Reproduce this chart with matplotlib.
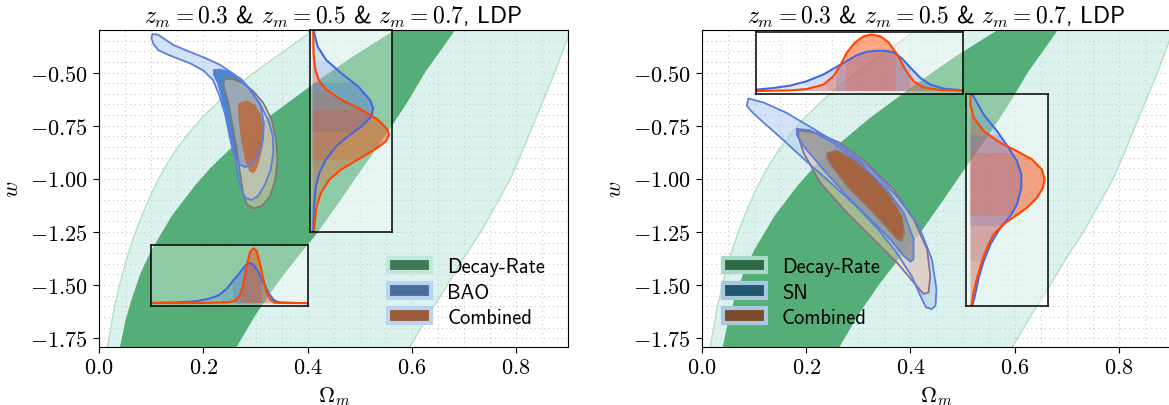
import numpy as np
import matplotlib
matplotlib.use('Agg')
import matplotlib.pyplot as plt
from matplotlib.patches import Polygon, Patch
from matplotlib.ticker import FormatStrFormatter, MultipleLocator

plt.rcParams['font.family'] = ['cmss10', 'DejaVu Sans']
plt.rcParams['mathtext.fontset'] = 'cm'
plt.rcParams['axes.unicode_minus'] = False

# ---- decay-rate band, (Omega_m, w) (same in both panels)
band2_left_om = [0.011, 0.016, 0.028, 0.040, 0.054, 0.069, 0.088, 0.110, 0.130, 0.149, 0.175,
                 0.200, 0.230, 0.263, 0.300, 0.340, 0.400, 0.430]
band2_left_w = [-1.85, -1.79, -1.62, -1.488, -1.365, -1.254, -1.135, -1.019, -0.93, -0.858, -0.775,
                -0.705, -0.635, -0.565, -0.495, -0.425, -0.32, -0.22]
band2_right_om = [0.581, 0.596, 0.632, 0.668, 0.700, 0.732, 0.762, 0.789, 0.812, 0.832, 0.854, 0.874, 0.900, 0.920]
band2_right_w = [-1.85, -1.79, -1.64, -1.50, -1.37, -1.25, -1.12, -1.00, -0.87, -0.75, -0.62, -0.50, -0.33, -0.25]
band1_left_om = [0.034, 0.040, 0.050, 0.062, 0.080, 0.101, 0.139, 0.184, 0.215, 0.250, 0.320,
                 0.404, 0.480, 0.562, 0.600]
band1_left_w = [-1.85, -1.79, -1.67, -1.567, -1.44, -1.332, -1.175, -1.03, -0.945, -0.862, -0.718,
                -0.566, -0.435, -0.308, -0.24]
band1_right_om = [0.249, 0.264, 0.300, 0.339, 0.380, 0.420, 0.456, 0.491, 0.527, 0.562, 0.595, 0.625, 0.683, 0.700]
band1_right_w = [-1.85, -1.79, -1.64, -1.50, -1.37, -1.25, -1.125, -1.00, -0.875, -0.75, -0.625, -0.50, -0.30, -0.24]

# ---- left panel contours (BAO / combined)
bao_2s = [(0.102, -0.319), (0.113, -0.322), (0.126, -0.344), (0.142, -0.370), (0.168, -0.397),
          (0.200, -0.428), (0.232, -0.464), (0.260, -0.511), (0.286, -0.573), (0.308, -0.644),
          (0.324, -0.722), (0.333, -0.800), (0.334, -0.878), (0.329, -0.956), (0.318, -1.027),
          (0.305, -1.081), (0.292, -1.100), (0.280, -1.089), (0.271, -1.042), (0.265, -0.964),
          (0.259, -0.878), (0.251, -0.784), (0.241, -0.691), (0.230, -0.605), (0.218, -0.534),
          (0.200, -0.491), (0.174, -0.456), (0.149, -0.433), (0.129, -0.413), (0.113, -0.394),
          (0.104, -0.366), (0.100, -0.339)]
bao_1s = [(0.220, -0.488), (0.232, -0.486), (0.250, -0.497), (0.272, -0.530), (0.294, -0.590),
          (0.310, -0.660), (0.316, -0.740), (0.314, -0.820), (0.305, -0.890), (0.292, -0.935),
          (0.280, -0.945), (0.268, -0.930), (0.258, -0.880), (0.250, -0.800), (0.243, -0.710),
          (0.236, -0.620), (0.228, -0.550), (0.220, -0.510)]
comb_2s_l = [(0.241, -0.531), (0.257, -0.531), (0.276, -0.550), (0.296, -0.589), (0.315, -0.644),
             (0.331, -0.722), (0.339, -0.816), (0.342, -0.909), (0.338, -1.003), (0.328, -1.081),
             (0.312, -1.128), (0.296, -1.139), (0.283, -1.120), (0.276, -1.066), (0.270, -0.972),
             (0.264, -0.863), (0.256, -0.753), (0.248, -0.644), (0.241, -0.581), (0.238, -0.550)]
comb_1s_l = [(0.267, -0.644), (0.283, -0.631), (0.299, -0.652), (0.310, -0.698), (0.315, -0.769),
             (0.314, -0.847), (0.308, -0.909), (0.302, -0.956), (0.296, -0.975), (0.288, -0.964),
             (0.280, -0.909), (0.273, -0.831), (0.268, -0.738), (0.266, -0.675)]

# ---- right panel contours (SN / combined)
sn_2s = [(0.089, -0.622), (0.118, -0.641), (0.161, -0.688), (0.210, -0.759), (0.267, -0.845),
         (0.324, -0.955), (0.373, -1.080), (0.416, -1.221), (0.441, -1.378), (0.450, -1.519),
         (0.448, -1.597), (0.441, -1.613), (0.430, -1.605), (0.419, -1.550), (0.402, -1.456),
         (0.373, -1.346), (0.338, -1.237), (0.295, -1.127), (0.246, -1.017), (0.196, -0.908),
         (0.154, -0.813), (0.118, -0.735), (0.097, -0.688), (0.086, -0.657)]
sn_1s = [(0.182, -0.765), (0.208, -0.772), (0.252, -0.831), (0.304, -0.925), (0.355, -1.050),
         (0.387, -1.159), (0.406, -1.284), (0.406, -1.378), (0.400, -1.390), (0.387, -1.362),
         (0.361, -1.284), (0.323, -1.191), (0.278, -1.081), (0.233, -0.956), (0.195, -0.847),
         (0.182, -0.792)]
comb_2s_r = [(0.185, -0.772), (0.220, -0.784), (0.265, -0.831), (0.316, -0.925), (0.368, -1.050),
             (0.406, -1.190), (0.432, -1.331), (0.438, -1.456), (0.435, -1.534), (0.425, -1.542),
             (0.406, -1.487), (0.374, -1.394), (0.329, -1.284), (0.278, -1.159), (0.227, -1.019),
             (0.195, -0.878), (0.185, -0.800)]
comb_1s_r = [(0.240, -0.878), (0.259, -0.866), (0.291, -0.909), (0.329, -0.987), (0.361, -1.081),
             (0.384, -1.175), (0.388, -1.253), (0.384, -1.292), (0.374, -1.284), (0.352, -1.222),
             (0.316, -1.128), (0.278, -1.034), (0.249, -0.940), (0.240, -0.901)]

# ---- 1D marginals shown in the insets (position, relative density)
bao_w = [-0.30, -0.315, -0.378, -0.440, -0.503, -0.565, -0.628, -0.667, -0.706, -0.753, -0.800,
         -0.847, -0.909, -0.972, -1.034, -1.128, -1.237, -1.25]
bao_w_d = [0.018, 0.022, 0.066, 0.176, 0.374, 0.595, 0.749, 0.793, 0.771, 0.639, 0.463,
           0.308, 0.176, 0.088, 0.044, 0.018, 0.009, 0.008]
combl_w = [-0.30, -0.409, -0.487, -0.534, -0.581, -0.628, -0.675, -0.722, -0.769, -0.792, -0.823,
           -0.862, -0.909, -0.956, -1.003, -1.065, -1.128, -1.25]
combl_w_d = [0.008, 0.013, 0.036, 0.080, 0.176, 0.374, 0.639, 0.859, 0.982, 1.000, 0.961,
             0.815, 0.595, 0.374, 0.220, 0.110, 0.053, 0.015]
bao_om = [0.100, 0.152, 0.184, 0.209, 0.228, 0.244, 0.257, 0.270, 0.280, 0.287, 0.296, 0.305,
          0.315, 0.324, 0.334, 0.344, 0.376, 0.400]
bao_om_d = [0.006, 0.018, 0.036, 0.078, 0.139, 0.259, 0.410, 0.560, 0.680, 0.740, 0.700, 0.570,
            0.380, 0.199, 0.066, 0.018, 0.006, 0.004]
combl_om = [0.100, 0.200, 0.248, 0.260, 0.270, 0.276, 0.283, 0.289, 0.296, 0.302, 0.308, 0.315,
            0.321, 0.328, 0.337, 0.360, 0.400]
combl_om_d = [0.004, 0.006, 0.018, 0.048, 0.139, 0.319, 0.681, 0.922, 1.000, 0.952, 0.741, 0.440,
              0.199, 0.066, 0.010, 0.004, 0.004]
sn_om = [0.103, 0.137, 0.169, 0.201, 0.233, 0.259, 0.278, 0.297, 0.316, 0.336, 0.352, 0.368,
         0.384, 0.400, 0.419, 0.438, 0.464, 0.501]
sn_om_d = [0.024, 0.054, 0.096, 0.174, 0.293, 0.431, 0.533, 0.635, 0.695, 0.713, 0.713, 0.683,
           0.575, 0.413, 0.234, 0.114, 0.042, 0.012]
combr_om = [0.103, 0.169, 0.201, 0.233, 0.252, 0.265, 0.278, 0.294, 0.310, 0.326, 0.342, 0.358,
            0.374, 0.390, 0.406, 0.425, 0.457, 0.501]
combr_om_d = [0.0, 0.012, 0.036, 0.114, 0.263, 0.443, 0.683, 0.862, 0.970, 1.000, 0.970, 0.862,
              0.653, 0.383, 0.174, 0.066, 0.018, 0.006]
sn_w = [-0.60, -0.698, -0.776, -0.855, -0.917, -0.980, -1.042, -1.120, -1.175, -1.230, -1.308,
        -1.386, -1.464, -1.558, -1.60]
sn_w_d = [0.02, 0.179, 0.359, 0.516, 0.628, 0.686, 0.686, 0.628, 0.538, 0.404, 0.269,
          0.179, 0.112, 0.054, 0.022]
combr_w = [-0.60, -0.651, -0.714, -0.776, -0.831, -0.870, -0.909, -0.956, -1.003, -1.042, -1.089,
           -1.136, -1.175, -1.214, -1.261, -1.323, -1.386, -1.464, -1.542, -1.60]
combr_w_d = [0.0, 0.0, 0.045, 0.179, 0.404, 0.628, 0.830, 0.964, 1.000, 0.978, 0.897,
             0.762, 0.605, 0.448, 0.314, 0.224, 0.157, 0.090, 0.036, 0.013]

# 1 and 2 sigma intervals shaded in the insets
bao_w_1s, bao_w_2s = (-0.78, -0.55), (-0.93, -0.45)
combl_w_1s, combl_w_2s = (-0.91, -0.675), (-1.0, -0.60)
bao_om_1s, bao_om_2s = (0.256, 0.310), (0.235, 0.325)
combl_om_1s, combl_om_2s = (0.275, 0.312), (0.265, 0.322)
sn_om_1s, sn_om_2s = (0.258, 0.399), (0.200, 0.440)
combr_om_1s, combr_om_2s = (0.277, 0.373), (0.238, 0.412)
sn_w_1s, sn_w_2s = (-1.222, -0.792), (-1.39, -0.70)
combr_w_1s, combr_w_2s = (-1.175, -0.878), (-1.386, -0.80)

BLUE = '#4169e1'
ORANGE = '#ff4500'


def draw_band(ax):
    ax.fill(band2_left_om + band2_right_om[::-1], band2_left_w + band2_right_w[::-1],
            facecolor='#b3e3da', alpha=0.45, edgecolor='none', zorder=1)
    ax.fill(band2_left_om + band2_right_om[::-1], band2_left_w + band2_right_w[::-1],
            facecolor='none', edgecolor='#b4e0c4', lw=1.0, zorder=1)
    ax.fill(band1_left_om + band1_right_om[::-1], band1_left_w + band1_right_w[::-1],
            facecolor='#3da363', alpha=0.85, edgecolor='none', zorder=2)


def draw_contour(ax, pts, fc, alpha, z):
    om, w = zip(*pts)
    ax.fill(om, w, facecolor=fc, alpha=alpha, edgecolor='none', zorder=z)


def draw_edge(ax, pts, ec, z, lw=1.3):
    om, w = zip(*pts)
    ax.fill(om, w, facecolor='none', edgecolor=ec, lw=lw, zorder=z)


def marginal_inset(ax, bounds, vertical, curves, dlim):
    ins = ax.inset_axes(bounds, transform=ax.transData, zorder=6)
    ins.set_facecolor((1, 1, 1, 0.35))
    x0, y0, w, h = bounds
    under = []
    for pos, dens, color, s1, s2, a_under in curves:
        if vertical:
            xy = list(zip(dens, pos)) + [(0, pos[-1]), (0, pos[0])]
        else:
            xy = list(zip(pos, dens)) + [(pos[-1], 0), (pos[0], 0)]
        poly = Polygon(xy, closed=True, facecolor=color, alpha=a_under, edgecolor='none')
        ins.add_patch(poly)
        under.append(poly)
    for (pos, dens, color, s1, s2, a_under), poly in zip(curves, under):
        for (lo, hi), a in ((s2, 0.08), (s1, 0.2)):
            if vertical:
                span = ins.axhspan(lo, hi, color=color, alpha=a, lw=0)
            else:
                span = ins.axvspan(lo, hi, color=color, alpha=a, lw=0)
            span.set_clip_path(poly)
    for pos, dens, color, s1, s2, a_under in curves:
        if vertical:
            ins.plot(dens, pos, color=color, lw=1.5)
        else:
            ins.plot(pos, dens, color=color, lw=1.5)
    if vertical:
        ins.set_xlim(*dlim)
        ins.set_ylim(y0, y0 + h)
    else:
        ins.set_ylim(*dlim)
        ins.set_xlim(x0, x0 + w)
    ins.set_xticks([])
    ins.set_yticks([])
    for s in ins.spines.values():
        s.set_color('black')
        s.set_linewidth(1.1)
    return ins


def style_axes(ax):
    ax.set_xlim(0, 0.9)
    ax.set_ylim(-1.79, -0.30)
    ax.set_xticks([0.0, 0.2, 0.4, 0.6, 0.8])
    ax.set_yticks([-1.75, -1.5, -1.25, -1.0, -0.75, -0.5])
    ax.xaxis.set_minor_locator(MultipleLocator(0.05))
    ax.yaxis.set_minor_locator(MultipleLocator(0.05))
    ax.xaxis.set_major_formatter(FormatStrFormatter(r'$%.1f$'))
    ax.yaxis.set_major_formatter(FormatStrFormatter(r'$%.2f$'))
    ax.tick_params(which='major', labelsize=16, length=4.5)
    ax.tick_params(which='minor', length=0)
    ax.set_axisbelow(True)
    ax.grid(which='both', ls=(0, (1, 3)), color='#c8c8c8', lw=0.8)
    ax.set_xlabel(r'$\Omega_m$', fontsize=16, labelpad=5)
    ax.set_ylabel(r'$w$', fontsize=16, labelpad=6)
    ax.set_title(r'$z_m = 0.3$ & $z_m = 0.5$ & $z_m = 0.7$, LDP', fontsize=17, pad=5)


fig = plt.figure(figsize=(11.69, 4.06), dpi=100)
ax1 = fig.add_axes([0.0849, 0.1436, 0.4012, 0.780])
ax2 = fig.add_axes([0.6005, 0.1436, 0.4012, 0.780])

# left panel: decay rate + BAO
draw_band(ax1)
draw_contour(ax1, bao_2s, '#a9c8ec', 0.5, 3)
draw_contour(ax1, bao_1s, '#2f78c0', 0.85, 3.1)
draw_contour(ax1, comb_2s_l, '#f4c9a8', 0.5, 3.2)
draw_contour(ax1, comb_1s_l, '#c0602a', 0.75, 3.3)
draw_edge(ax1, comb_2s_l, '#7a7a7a', 4)
draw_edge(ax1, bao_2s, '#5b7fe0', 4.1)
draw_edge(ax1, bao_1s, '#5b7fe0', 4.1)
style_axes(ax1)
marginal_inset(ax1, [0.405, -1.25, 0.1575, 0.95], True,
               [(bao_w, bao_w_d, BLUE, bao_w_1s, bao_w_2s, 0.15),
                (combl_w, combl_w_d, ORANGE, combl_w_1s, combl_w_2s, 0.25)],
               (-0.03, 1.044))
marginal_inset(ax1, [0.10, -1.60, 0.30, 0.2875], False,
               [(bao_om, bao_om_d, BLUE, bao_om_1s, bao_om_2s, 0.15),
                (combl_om, combl_om_d, ORANGE, combl_om_1s, combl_om_2s, 0.25)],
               (-0.055, 1.055))
leg1 = ax1.legend(handles=[Patch(facecolor='#3f7a55', edgecolor='#c2e8de', lw=3),
                           Patch(facecolor='#4a6c9c', edgecolor='#b8d4ee', lw=3),
                           Patch(facecolor='#9c5a3c', edgecolor='#b8d4ee', lw=3)],
                  labels=['Decay-Rate', 'BAO', 'Combined'], loc='lower right',
                  bbox_to_anchor=(0.99, 0.005), frameon=False, fontsize=14.7,
                  handlelength=2.1, handleheight=0.7, handletextpad=0.8, labelspacing=0.3)
leg1.set_zorder(10)

# right panel: decay rate + SN
draw_band(ax2)
draw_contour(ax2, sn_2s, '#a9c8ec', 0.5, 3)
draw_contour(ax2, sn_1s, '#1f4e79', 0.7, 3.1)
draw_contour(ax2, comb_2s_r, '#f4c9a8', 0.5, 3.2)
draw_contour(ax2, comb_1s_r, '#a8572a', 0.8, 3.3)
draw_edge(ax2, comb_2s_r, '#8a7090', 4)
draw_edge(ax2, comb_1s_r, '#8a7a7a', 4, lw=1.0)
draw_edge(ax2, sn_2s, '#5b7fe0', 4.1)
draw_edge(ax2, sn_1s, '#5b7fe0', 4.1)
style_axes(ax2)
marginal_inset(ax2, [0.103, -0.60, 0.398, 0.29], False,
               [(sn_om, sn_om_d, BLUE, sn_om_1s, sn_om_2s, 0.15),
                (combr_om, combr_om_d, ORANGE, combr_om_1s, combr_om_2s, 0.28)],
               (-0.048, 1.042))
marginal_inset(ax2, [0.507, -1.60, 0.157, 1.0], True,
               [(sn_w, sn_w_d, BLUE, sn_w_1s, sn_w_2s, 0.15),
                (combr_w, combr_w_d, ORANGE, combr_w_1s, combr_w_2s, 0.28)],
               (-0.058, 1.046))
leg2 = ax2.legend(handles=[Patch(facecolor='#2d6b45', edgecolor='#a8d8c8', lw=3),
                           Patch(facecolor='#23566f', edgecolor='#a6c8e0', lw=3),
                           Patch(facecolor='#7b4a2a', edgecolor='#a9c8dc', lw=3)],
                  labels=['Decay-Rate', 'SN', 'Combined'], loc='lower left',
                  bbox_to_anchor=(0.005, 0.005), frameon=False, fontsize=14.7,
                  handlelength=2.1, handleheight=0.7, handletextpad=0.8, labelspacing=0.3)
leg2.set_zorder(10)

fig.savefig('out.png', dpi=100)
